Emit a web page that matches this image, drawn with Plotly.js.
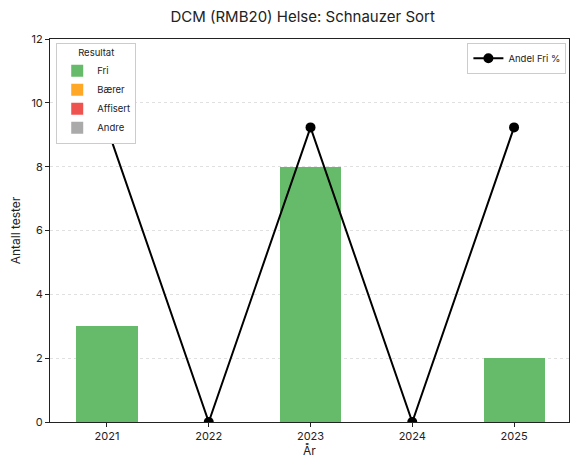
<!DOCTYPE html>
<html>
<head>
<meta charset="utf-8">
<script src="https://cdn.plot.ly/plotly-3.0.1.min.js"></script>
<style>html,body{margin:0;padding:0;background:#fff;}#chart{width:571px;height:460px;}</style>
</head>
<body>
<div id="chart"></div>
<script>
const years = ["2021", "2022", "2023", "2024", "2025"];
const fri = [3, 0, 8, 0, 2];
const baerer = [0, 0, 0, 0, 0];
const affisert = [0, 0, 0, 0, 0];
const andre = [0, 0, 0, 0, 0];
const andelFri = [100, 0, 100, 0, 100];

const font = "Inter, Roboto, 'DejaVu Sans', sans-serif";

function barTrace(name, vals, color) {
  return {
    type: "bar", name: name, x: years, y: vals,
    marker: {color: color}, width: 0.6, legend: "legend",
    hoverinfo: "y+name"
  };
}

const traces = [
  barTrace("Fri", fri, "#66bb6a"),
  barTrace("Bærer", baerer, "#ffa726"),
  barTrace("Affisert", affisert, "#ef5350"),
  barTrace("Andre", andre, "#aaaaaa"),
  {
    type: "scatter", mode: "lines+markers", name: "Andel Fri %",
    x: years, y: andelFri, yaxis: "y2", legend: "legend2",
    line: {color: "#000000", width: 2},
    marker: {color: "#000000", size: 10}
  }
];

const layout = {
  width: 571, height: 460,
  margin: {l: 50, r: 2, t: 39, b: 38},
  paper_bgcolor: "#ffffff", plot_bgcolor: "#ffffff",
  font: {family: font, size: 11, color: "#222"},
  barmode: "stack",
  title: {text: "DCM (RMB20) Helse: Schnauzer Sort", x: 0.53, xanchor: "center", y: 0.975, yanchor: "top",
          font: {family: font, size: 15, color: "#222"}},
  xaxis: {
    type: "category", range: [-0.56, 4.54],
    showline: true, linecolor: "#222", linewidth: 1, mirror: true,
    ticks: "outside", ticklen: 4, tickcolor: "#222",
    showgrid: false, zeroline: false,
    title: {text: "År", standoff: 2, font: {family: font, size: 12}},
    tickfont: {family: font, size: 11}
  },
  yaxis: {
    range: [0, 12], dtick: 2,
    showline: true, linecolor: "#222", linewidth: 1, mirror: true,
    ticks: "outside", ticklen: 4, tickcolor: "#222",
    showgrid: true, gridcolor: "#e0e0e0", griddash: "dot", gridwidth: 1,
    zeroline: false,
    title: {text: "Antall tester", standoff: 8, font: {family: font, size: 12}},
    tickfont: {family: font, size: 11}
  },
  yaxis2: {
    overlaying: "y", side: "right", range: [0, 130],
    visible: false, showgrid: false, zeroline: false
  },
  legend: {
    title: {text: "Resultat", side: "top center", font: {family: font, size: 9.5}},
    x: 0.012, y: 0.99, xanchor: "left", yanchor: "top",
    bgcolor: "#ffffff", bordercolor: "#cccccc", borderwidth: 1,
    font: {family: font, size: 9.5}, traceorder: "normal",
    itemwidth: 30, tracegroupgap: 0
  },
  legend2: {
    x: 0.995, y: 0.99, xanchor: "right", yanchor: "top",
    bgcolor: "#ffffff", bordercolor: "#cccccc", borderwidth: 1,
    font: {family: font, size: 9.5}, itemwidth: 30
  },
  showlegend: true
};

Plotly.newPlot("chart", traces, layout, {displayModeBar: false, staticPlot: true});
</script>
</body>
</html>
